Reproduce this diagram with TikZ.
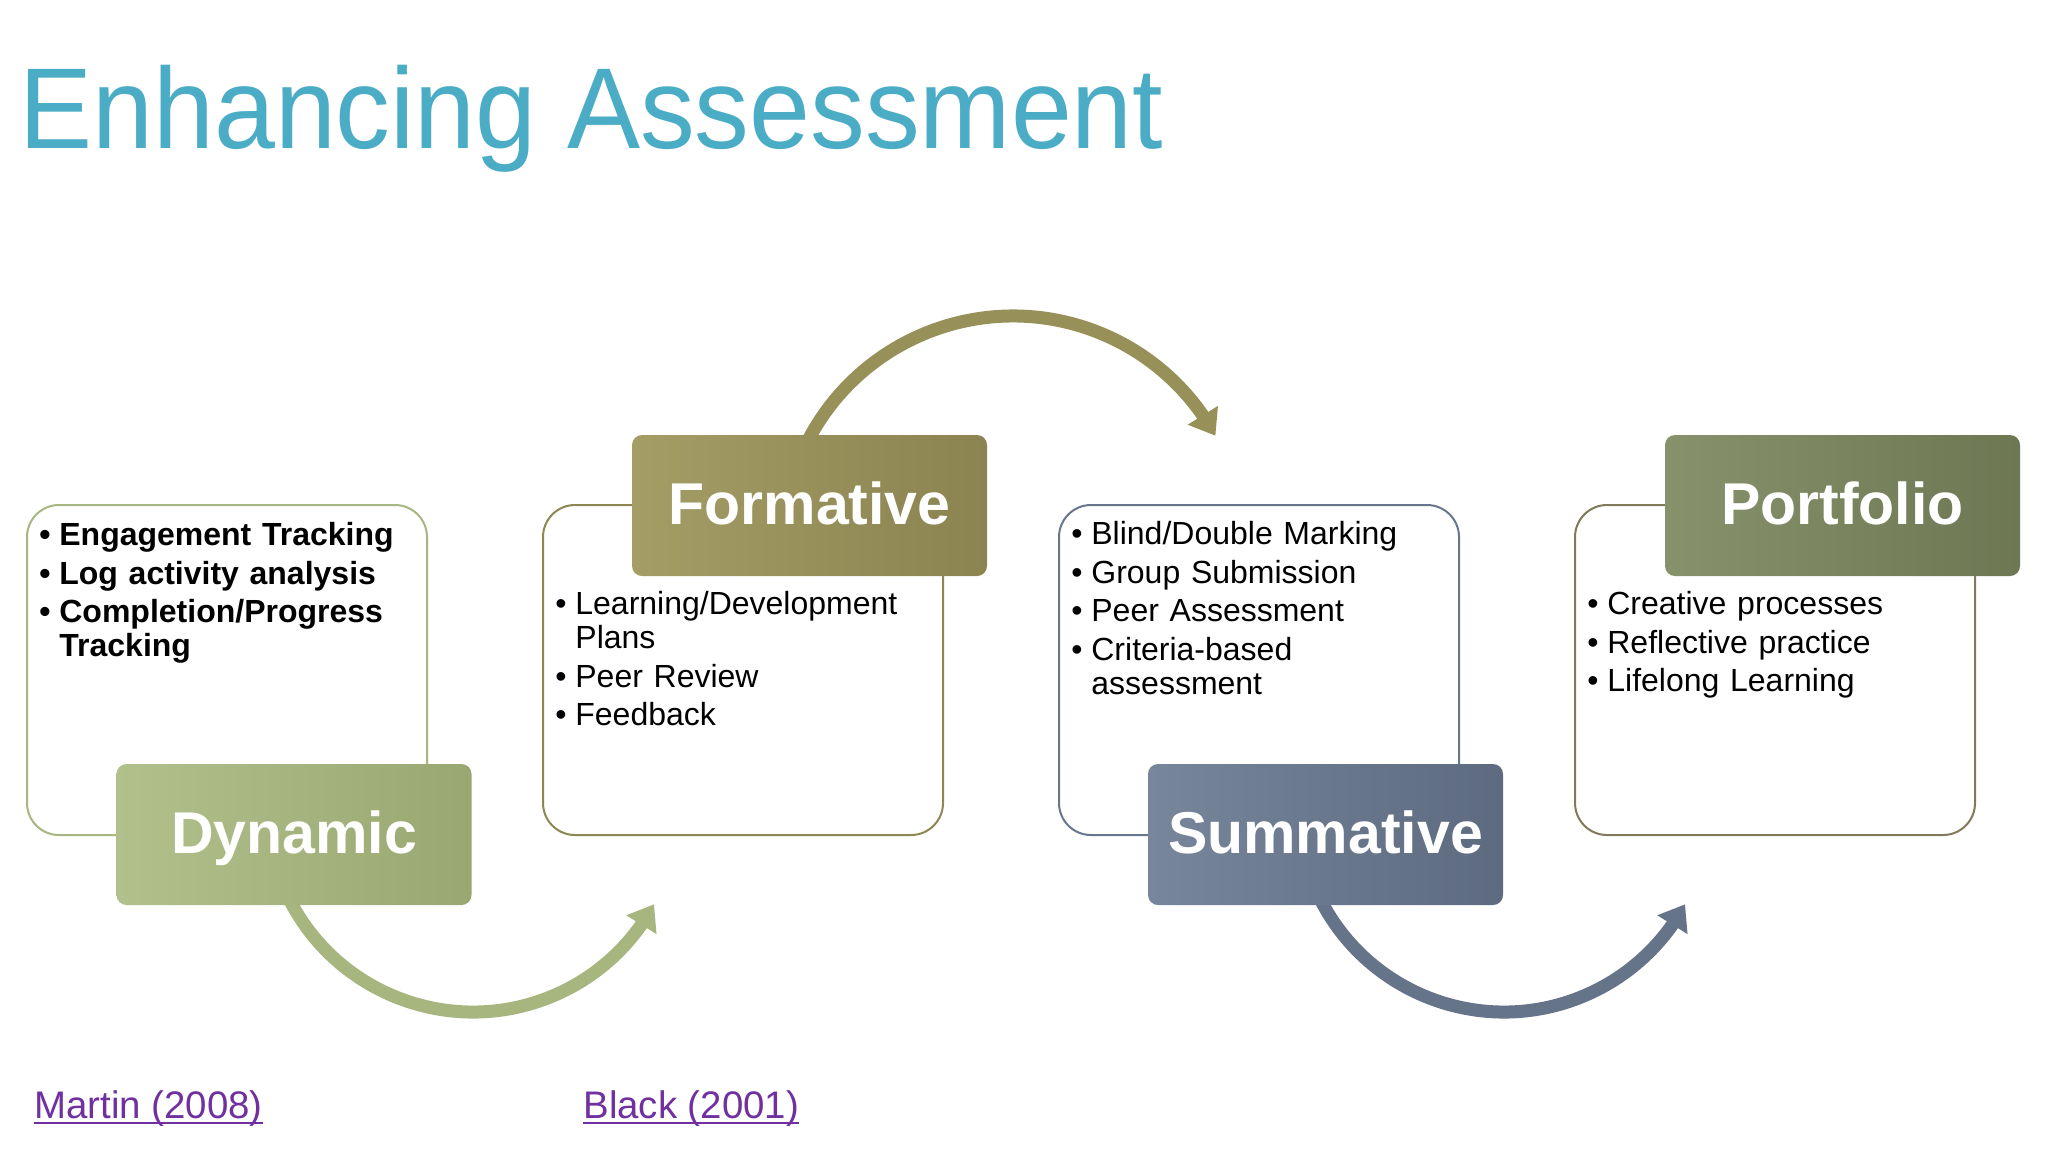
\documentclass[tikz,border=0pt]{standalone}
\usepackage{fontspec}
\setmainfont{Liberation Sans}
\usepackage{graphicx}
\usetikzlibrary{arrows.meta,bending}
\definecolor{titleblue}{HTML}{4BACC6}
\definecolor{linkpurple}{HTML}{7030A0}
\definecolor{dynline}{HTML}{A8B682}
\definecolor{formline}{HTML}{8C8753}
\definecolor{sumline}{HTML}{68778D}
\definecolor{portline}{HTML}{7F7B58}
\definecolor{dynL}{HTML}{B2C08C}
\definecolor{dynR}{HTML}{99A771}
\definecolor{formL}{HTML}{A59D66}
\definecolor{formR}{HTML}{8B8350}
\definecolor{sumL}{HTML}{77869B}
\definecolor{sumR}{HTML}{5D6A7F}
\definecolor{portL}{HTML}{87926C}
\definecolor{portR}{HTML}{6D7753}
\definecolor{dynarrow}{HTML}{A7B67F}
\definecolor{formarrow}{HTML}{979058}
\definecolor{sumarrow}{HTML}{66748A}
\newcommand{\bitem}[1]{\par\noindent\hangindent=10pt\hangafter=1\makebox[10pt][l]{•}\rule{0pt}{12pt}#1}
\begin{document}
\begin{tikzpicture}[x=0.5pt,y=-0.5pt,
  textbox/.style={rectangle, rounded corners=16pt, minimum width=200pt, minimum height=165pt, inner sep=0pt, line width=1pt, fill=white},
  labelbox/.style={rectangle, rounded corners=5pt, minimum width=177.5pt, minimum height=70.5pt, inner sep=0pt, text=white, font=\bfseries\fontsize{29.5}{30}\selectfont, text height=22.5pt, text depth=4pt},
  listtext/.style={anchor=north west, inner sep=0pt, text width=195pt, align=left, font=\fontsize{16}{17}\selectfont},
  cyclearrow/.style={line width=6.5pt, -{Triangle[width=17pt,length=12pt]}},
  linktext/.style={anchor=base west, inner sep=0pt, text=linkpurple, font=\fontsize{19.2}{20}\selectfont},
  linkline/.style={draw=linkpurple, line width=1.2pt}
]
\path[fill=white] (0,0) rectangle (2048,1152);
\useasboundingbox (0,0) rectangle (2048,1152);

% title
\node[anchor=base west, inner sep=0pt, text=titleblue, font=\fontsize{57.5}{60}\selectfont] (title) at (19,148) {\scalebox{0.952}[1]{Enhancing Assessment}};

% text boxes
\node[textbox, draw=dynline] (dynbox) at (227,670) {};
\node[textbox, draw=formline] (formbox) at (743,670) {};
\node[textbox, draw=sumline] (sumbox) at (1259,670) {};
\node[textbox, draw=portline] (portbox) at (1775,670) {};

% bullet lists
\node[listtext, font=\bfseries\fontsize{16}{17}\selectfont] (dynlist) at (39,507) {\setlength{\parskip}{2.25pt}%
\bitem{Engagement Tracking}\bitem{Log activity analysis}\bitem{Completion/Progress\newline Tracking}\par};
\node[listtext] (formlist) at (555,576) {\setlength{\parskip}{2.25pt}%
\bitem{Learning/Development\newline Plans}\bitem{Peer Review}\bitem{Feedback}\par};
\node[listtext] (sumlist) at (1071,506) {\setlength{\parskip}{2.25pt}%
\bitem{Blind/Double Marking}\bitem{Group Submission}\bitem{Peer Assessment}\bitem{Criteria-based\newline assessment}\par};
\node[listtext] (portlist) at (1587,576) {\setlength{\parskip}{2.25pt}%
\bitem{Creative processes}\bitem{Reflective practice}\bitem{Lifelong Learning}\par};

% arrows
\coordinate (c1) at (473,806);
\coordinate (c2) at (1013,547);
\coordinate (c3) at (1504,806);
\draw[cyclearrow, draw=dynarrow] ([shift={(156:206)}]c1) arc[start angle=156, end angle=28.5, radius=206];
\draw[cyclearrow, draw=formarrow] ([shift={(205:231)}]c2) arc[start angle=205, end angle=331.2, radius=231];
\draw[cyclearrow, draw=sumarrow] ([shift={(156:206)}]c3) arc[start angle=156, end angle=28.5, radius=206];

% labels
\node[labelbox, left color=dynL, right color=dynR] (dynlab) at (294,834.5) {Dynamic};
\node[labelbox, left color=formL, right color=formR] (formlab) at (809.5,505.5) {Formative};
\node[labelbox, left color=sumL, right color=sumR] (sumlab) at (1325.5,834.5) {Summative};
\node[labelbox, left color=portL, right color=portR] (portlab) at (1842.5,505.5) {Portfolio};

% references
\node[linktext] (martin) at (34,1118) {Martin (2008)};
\node[linktext] (black) at (583,1118) {Black (2001)};
\draw[linkline] ([yshift=-2.6pt]martin.base west) -- ([yshift=-2.6pt]martin.base east);
\draw[linkline] ([yshift=-2.6pt]black.base west) -- ([yshift=-2.6pt]black.base east);
\end{tikzpicture}
\end{document}
